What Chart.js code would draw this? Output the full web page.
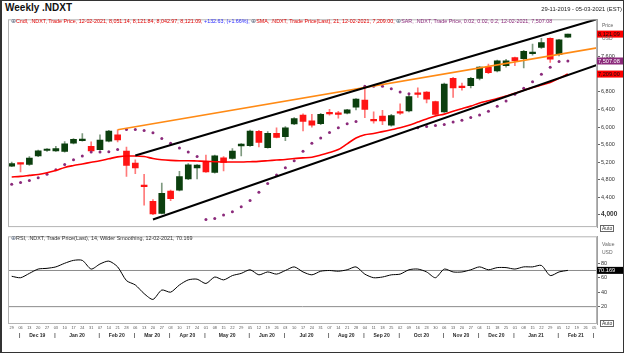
<!DOCTYPE html>
<html><head><meta charset="utf-8">
<script src="https://cdn.jsdelivr.net/npm/chart.js@4.4.1/dist/chart.umd.min.js"></script>
<style>
html,body{margin:0;padding:0;background:#fff;}
#root{position:relative;width:626px;height:357px;overflow:hidden;font-family:"Liberation Sans",Arial,sans-serif;}
#frame{position:absolute;left:0;top:0;width:624px;height:353px;border:1px solid #333;border-left-width:2px;box-sizing:border-box;}
.t{position:absolute;white-space:nowrap;line-height:1;}
.auto{font-size:5px;border:1px solid #666;padding:0 1px;color:#333;background:#fff;}
.ic{color:#5a6a80;font-size:6px;}
#c1w{position:absolute;left:0;top:15px;width:626px;height:217px;}
#c2w{position:absolute;left:0;top:232px;width:626px;height:125px;}
</style></head><body>
<div id="root">
<div id="frame"></div>
<div id="c1w"><canvas id="c1"></canvas></div>
<div id="c2w"><canvas id="c2"></canvas></div>
<div class="t" style="left:5px;top:3px;font-weight:bold;font-size:10px;color:#111">Weekly .NDXT</div>
<div class="t" style="right:4px;top:7px;font-size:5.8px;color:#222">29-11-2019 - 05-03-2021 (EST)</div>
<div class="t" id="leg" style="left:11px;top:17.5px;font-size:5.35px;"></div>
<div class="t" id="rsileg" style="left:11px;top:235px;font-size:5.4px;color:#333"></div>
<div class="t" style="left:602px;top:23px;font-size:5px;color:#666">Price</div>
<div class="t" style="left:602px;top:36px;font-size:5px;color:#666">USD</div>
<div class="t" style="left:602px;top:242px;font-size:5px;color:#666">Value</div>
<div class="t" style="left:602px;top:250px;font-size:5px;color:#666">USD</div>
<div class="t auto" style="left:600px;top:225px;">Auto</div>
<div class="t auto" style="left:600px;top:320px;">Auto</div>
</div>
<script>
const weeks = ['2019-11-29','2019-12-06','2019-12-13','2019-12-20','2019-12-27','2020-01-03','2020-01-10','2020-01-17','2020-01-24','2020-01-31',
'2020-02-07','2020-02-14','2020-02-21','2020-02-28','2020-03-06','2020-03-13','2020-03-20','2020-03-27','2020-04-03','2020-04-10',
'2020-04-17','2020-04-24','2020-05-01','2020-05-08','2020-05-15','2020-05-22','2020-05-29','2020-06-05','2020-06-12','2020-06-19',
'2020-06-26','2020-07-03','2020-07-10','2020-07-17','2020-07-24','2020-07-31','2020-08-07','2020-08-14','2020-08-21','2020-08-28',
'2020-09-04','2020-09-11','2020-09-18','2020-09-25','2020-10-02','2020-10-09','2020-10-16','2020-10-23','2020-10-30','2020-11-06',
'2020-11-13','2020-11-20','2020-11-27','2020-12-04','2020-12-11','2020-12-18','2020-12-25','2021-01-01','2021-01-08','2021-01-15',
'2021-01-22','2021-01-29','2021-02-05','2021-02-12','2021-02-19','2021-02-26','2021-03-05'];

const openP  = [5107,5168,5144,5340,5465,5457,5443,5632,5690,5559,5486,5676,5822,5450,5180,4677,4306,4029,4539,4561,
4816,5064,5217,4962,5297,5282,5567,5574,5902,5530,5858,5778,6069,6273,6142,6076,6332,6310,6317,6455,
6615,6178,6251,6040,6339,6368,6783,6798,6579,6346,7111,6921,6943,7111,7366,7279,7403,7585,7563,7672,
7818,8022,7658,8051.14];
const highP  = [5202,5175,5326,5472,5508,5559,5668,5734,5851,5661,5822,5924,5938,5545,5253,4918,4342,4721,4561,4991,
5166,5144,5362,5362,5326,5508,5625,5931,5924,5894,5982,6011,6215,6302,6288,6310,6404,6361,6404,6652,
6943,6346,6382,6288,6528,6725,6892,6812,6594,7002,7133,7002,7133,7381,7439,7526,7548,7599,7752,7891,
8022,8036,8000,8121.84];
const lowP   = [5093,4976,5122,5326,5443,5443,5428,5617,5676,5414,5472,5661,5661,4874,4933,4218,4000,4015,4321,4539,
4801,4816,4962,4947,4998,5268,5340,5559,5545,5516,5749,5690,6055,5909,5996,6055,6273,6200,6302,6390,
6215,6091,6055,6018,6288,6346,6674,6550,6259,6331,6674,6841,6892,7075,7220,7257,7366,7403,7352,7643,
7796,7475,7621,8042.97];
const closeP = [5166,5155,5290,5457,5478,5508,5617,5720,5720,5457,5705,5909,5705,5122,5064,4641,4015,4488,4364,4867,
5136,5129,4976,5340,5195,5450,5610,5909,5647,5858,5763,5982,6193,6127,6040,6288,6302,6288,6390,6637,
6404,6142,6142,6259,6317,6696,6747,6637,6288,6980,6892,6900,7111,7366,7242,7512,7512,7512,7730,7708,
7927,7548,7988.46,8121.09];
const sma21 = [4860,4874,4896,4918,4955,5006,5078,5122,5158,5195,5231,5275,5319,5340,5340,5326,5282,5253,5238,5231,
5231,5224,5217,5209,5202,5202,5202,5209,5217,5231,5246,5260,5282,5295,5311,5360,5420,5486,5617,5749,
5822,5851,5895,5938,5982,6040,6113,6186,6251,6295,6361,6419,6477,6550,6601,6652,6710,6769,6841,6900,
6958,7016,7110,7209.00];
const sar = [4692,4736,4780,4845,4925,5027,5144,5253,5340,5428,5428,5435,5486,5945,5945,5923,5872,5741,5632,5523,
5428,5326,3891,3912,3993,4066,4182,4321,4510,4714,4903,5071,5231,5450,5632,5749,5873,5982,6077,6128,
6929,6929,6929,6871,6798,6760,5982,6011,6033,6055,6113,6157,6215,6273,6361,6477,6594,6747,6885,7031,
7206,7366,7497,7507.08];
const rsi14 = [62,60,66,72,73,75,80,84,84,72,79,83,75,56,50,38,30,43,40,50,
57,58,52,61,57,63,66,71,64,68,65,70,75,68,64,69,70,69,71,75,
65,60,61,64,65,71,72,68,60,72,68,68,71,75,71,74,74,72,75,75,
77,63,68,70.169];
const priceTicks = [4000,4400,4800,5200,5600,6000,6400,6800,7600];
const rsiTicks = [20,40,60,80];
const rsiLevels = [70,20];
const orangeLine = [[12,5939],[66.3,7808]];
const upperChannel = [[14,5349],[66.3,8463]];
const lowerChannel = [[16,3891],[66.3,7417]];
const monthNames = ['Jan','Feb','Mar','Apr','May','Jun','Jul','Aug','Sep','Oct','Nov','Dec'];

const X_MIN = -0.42, X_MAX = 66.3;
const FONT = '"Liberation Sans", Arial, sans-serif';
Chart.defaults.font.family = FONT;
const n = closeP.length;
const isUp = i => closeP[i] >= openP[i];
const fmt2 = v => v.toLocaleString('en-US',{minimumFractionDigits:2,maximumFractionDigits:2});
const dmy = s => s.slice(8,10)+'-'+s.slice(5,7)+'-'+s.slice(0,4);

const last = n-1, lastDate = dmy(weeks[last]);
const chg = closeP[last]-closeP[last-1];
const pct = chg/closeP[last-1]*100;
document.getElementById('leg').innerHTML =
 '<span class="ic">⊕</span><span style="color:#e00000">Cndl, .NDXT, Trade Price,  '+lastDate+', '+fmt2(openP[last])+', '+fmt2(highP[last])+', '+fmt2(lowP[last])+', '+fmt2(closeP[last])+', </span>'+
 '<span style="color:#2a2aff">+'+fmt2(chg)+', (+'+pct.toFixed(2)+'%), </span>'+
 '<span class="ic">⊕</span><span style="color:#e00000">SMA, .NDXT, Trade Price(Last),  21, '+lastDate+', '+fmt2(sma21[last])+', </span>'+
 '<span class="ic">⊕</span><span style="color:#8b2a7b">SAR, .NDXT, Trade Price,  0.02, 0.02, 0.2, '+lastDate+', '+fmt2(sar[last])+'</span>';
document.getElementById('rsileg').innerHTML =
 '<span class="ic">⊕</span>RSI, .NDXT, Trade Price(Last),  14, Wilder Smoothing, '+lastDate+', '+rsi14[last].toFixed(3);

const areaBorder = {id:'areaBorder', afterDraw(chart){
  const a = chart.chartArea, ctx = chart.ctx;
  ctx.save(); ctx.strokeStyle='#b4b4b4'; ctx.lineWidth=1;
  ctx.strokeRect(a.left+0.5, a.top+0.5, a.right-a.left-1, a.bottom-a.top-1);
  ctx.restore();
}};
const badges = {id:'badges', afterDraw(chart, args, opts){
  const ys = chart.scales.y, ctx = chart.ctx;
  ctx.save();
  opts.items.forEach(b=>{
    const y = ys.getPixelForValue(b.v);
    ctx.fillStyle=b.bg; ctx.fillRect(ys.left, y-3.5, 26, 7);
    ctx.fillStyle=b.fg; ctx.font='5.6px '+FONT; ctx.textBaseline='middle'; ctx.textAlign='left';
    ctx.fillText(b.text, ys.left+1, y+0.4);
  });
  ctx.restore();
}};
const months = {id:'months', afterDraw(chart){
  const xs = chart.scales.x, ctx = chart.ctx;
  const firsts = [];
  weeks.forEach((w,i)=>{ if(i>0 && w.slice(5,7)!==weeks[i-1].slice(5,7)) firsts.push(i); });
  ctx.save(); ctx.fillStyle='#2a2a2a'; ctx.font='bold 5px '+FONT; ctx.textBaseline='middle'; ctx.textAlign='center';
  const yy = 103.5;
  firsts.forEach((f,k)=>{
    const sx = xs.getPixelForValue(f-0.1);
    ctx.fillText('|', sx, yy);
    if(k<firsts.length-1){
      const cx = xs.getPixelForValue((f + firsts[k+1])/2 - 0.1);
      const w = weeks[f];
      ctx.fillText(monthNames[+w.slice(5,7)-1]+' '+w.slice(2,4), cx, yy);
    }
  });
  ctx.restore();
}};

const pts = arr => arr.map(p=>({x:p[0],y:p[1]}));
const series = arr => arr.map((v,i)=>({x:i,y:v}));

new Chart(document.getElementById('c1'), {
  type:'bar',
  data:{datasets:[
    {type:'line', data:pts(upperChannel), borderColor:'#000', borderWidth:2, pointRadius:0, order:0},
    {type:'line', data:pts(lowerChannel), borderColor:'#000', borderWidth:2, pointRadius:0, order:0},
    {type:'line', data:pts(orangeLine), borderColor:'#ff8a14', borderWidth:1.6, pointRadius:0, order:1},
    {type:'line', data:series(sma21), borderColor:'#ff0000', borderWidth:1.6, pointRadius:0, cubicInterpolationMode:'monotone', order:2},
    {type:'line', data:series(sar), showLine:false, pointRadius:1.5, pointBackgroundColor:'#8b2a7b', pointBorderWidth:0, order:3},
    {type:'bar', data:openP.map((o,i)=>({x:i,y:[openP[i],closeP[i]]})), grouped:false, barThickness:6, minBarLength:1.5,
      backgroundColor:openP.map((o,i)=>isUp(i)?'#0b3f0e':'#ff1414'), order:4},
    {type:'bar', data:openP.map((o,i)=>({x:i,y:[lowP[i],highP[i]]})), grouped:false, barThickness:1,
      backgroundColor:openP.map((o,i)=>isUp(i)?'#7f9a80':'#ff7a7a'), order:5}
  ]},
  options:{
    animation:false, responsive:true, maintainAspectRatio:false,
    layout:{padding:{left:8,right:0,top:0,bottom:0}},
    plugins:{legend:{display:false}, tooltip:{enabled:false},
      badges:{items:[
        {v:closeP[last], bg:'#ff0000', fg:'#111', text:fmt2(closeP[last])},
        {v:sar[last], bg:'#8b2a7b', fg:'#fff', text:fmt2(sar[last])},
        {v:sma21[last], bg:'#ff0000', fg:'#111', text:fmt2(sma21[last])}
      ]}},
    scales:{
      x:{type:'linear', min:X_MIN, max:X_MAX, offset:false, display:false},
      y:{type:'linear', position:'right', min:3716, max:8459, beginAtZero:false,
        afterBuildTicks:s=>{s.ticks = priceTicks.map(v=>({value:v}));},
        afterFit:s=>{s.width=29;},
        ticks:{padding:1, color:'#333', font:c=>(c.tick&&c.tick.value===4000)?{size:6.5,weight:'bold'}:{size:5.5}},
        grid:{drawOnChartArea:false, drawTicks:true, tickLength:3, color:'#666'},
        border:{display:true, color:'#a0a0a0'}}
    }
  },
  plugins:[areaBorder, badges]
});

new Chart(document.getElementById('c2'), {
  type:'line',
  data:{datasets:[
    ...rsiLevels.map(l=>({data:[{x:X_MIN,y:l},{x:X_MAX,y:l}], borderColor:'#8c8c8c', borderWidth:1, pointRadius:0, order:2})),
    {data:series(rsi14), borderColor:'#000', borderWidth:1, pointRadius:0, tension:0.25, order:0}
  ]},
  options:{
    animation:false, responsive:true, maintainAspectRatio:false,
    layout:{padding:{left:8,right:0,top:1,bottom:0}},
    plugins:{legend:{display:false}, tooltip:{enabled:false},
      badges:{items:[{v:rsi14[last], bg:'#000', fg:'#fff', text:rsi14[last].toFixed(3)}]}},
    scales:{
      x:{type:'linear', min:X_MIN, max:X_MAX,
        afterBuildTicks:s=>{s.ticks = weeks.map((w,i)=>({value:i}));},
        afterFit:s=>{s.height=33;},
        ticks:{autoSkip:false, maxRotation:0, minRotation:0, padding:2, color:'#555', font:{size:3.8},
          callback:v=>weeks[v]?weeks[v].slice(8,10):''},
        grid:{display:false, drawTicks:false}, border:{display:false}},
      y:{type:'linear', position:'right', min:-4, max:117.3,
        afterBuildTicks:s=>{s.ticks = rsiTicks.map(v=>({value:v}));},
        afterFit:s=>{s.width=29;},
        ticks:{padding:1, color:'#333', font:{size:5.5}},
        grid:{drawOnChartArea:false, drawTicks:true, tickLength:3, color:'#666'},
        border:{display:true, color:'#a0a0a0'}}
    }
  },
  plugins:[areaBorder, badges, months]
});
</script>
</body></html>
